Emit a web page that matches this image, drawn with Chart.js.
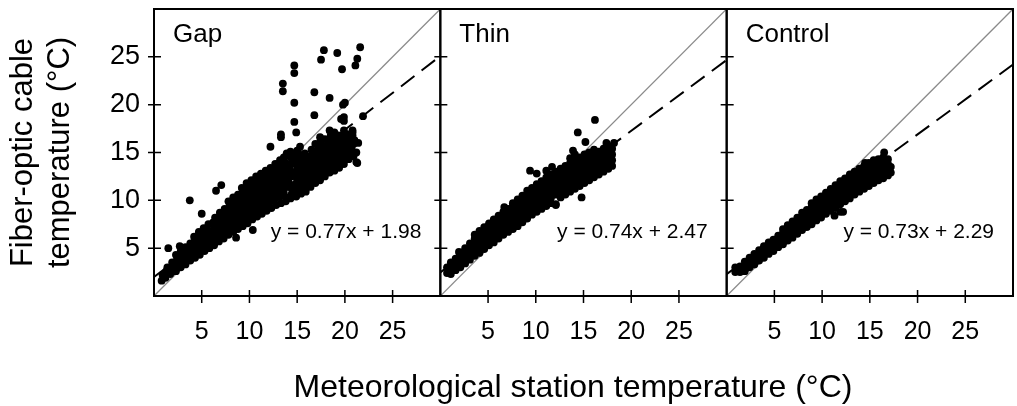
<!DOCTYPE html>
<html>
<head>
<meta charset="utf-8">
<script src="https://cdn.jsdelivr.net/npm/chart.js@4.4.0/dist/chart.umd.min.js"></script>
<style>
  html, body { margin: 0; padding: 0; background: #fff; }
  #wrap { width: 1017px; height: 406px; position: relative; }
</style>
</head>
<body>
<div id="wrap"><canvas id="myChart"></canvas></div>
<script>
// panel names and the regression fit printed in each panel
const panelNames = ['Gap', 'Thin', 'Control'];
const fitSlopes = [0.77, 0.74, 0.73];
const fitIntercepts = [1.98, 2.47, 2.29];
const tickValues = [5, 10, 15, 20, 25];
const axisMin = 0;
const axisMax = 30;

// [station temp, cable temp]
const gapPoints = [
  [0.8,1.6],[0.9,2.2],[1.2,1.9],[1.3,2.6],[1.4,3.0],[1.7,2.3],[1.8,2.9],[1.9,3.5],
  [2.3,2.6],[2.2,3.2],[2.4,3.8],[2.3,4.3],[2.8,3.0],[2.7,3.6],[2.9,4.2],[2.8,4.7],
  [3.3,3.3],[3.2,3.9],[3.4,4.5],[3.3,5.1],[3.8,3.7],[3.7,4.3],[3.9,4.9],[3.8,5.5],
  [4.3,4.0],[4.2,4.6],[4.4,5.2],[4.3,5.8],[4.2,6.2],
  [4.8,4.3],[4.7,4.9],[4.9,5.5],[4.8,6.1],[4.7,6.7],
  [5.3,4.7],[5.2,5.3],[5.4,5.9],[5.3,6.5],[5.2,7.1],
  [5.8,5.0],[5.7,5.6],[5.9,6.2],[5.8,6.8],[5.7,7.5],
  [6.3,5.3],[6.2,5.9],[6.4,6.5],[6.3,7.1],[6.2,7.7],[6.4,8.2],
  [6.8,5.7],[6.7,6.3],[6.9,6.9],[6.8,7.5],[6.7,8.1],[6.9,8.7],
  [7.3,6.0],[7.2,6.6],[7.4,7.2],[7.3,7.8],[7.2,8.4],[7.4,9.1],
  [7.8,6.4],[7.7,7.0],[7.9,7.6],[7.8,8.2],[7.7,8.8],[7.9,9.4],[7.8,9.9],
  [8.3,6.7],[8.2,7.3],[8.4,7.9],[8.3,8.5],[8.2,9.1],[8.4,9.7],[8.3,10.3],
  [8.8,7.0],[8.7,7.6],[8.9,8.2],[8.8,8.8],[8.7,9.4],[8.9,10.0],[8.8,10.6],
  [9.3,7.3],[9.2,7.9],[9.4,8.5],[9.3,9.1],[9.2,9.7],[9.4,10.3],[9.3,10.9],[9.2,11.3],
  [9.8,7.6],[9.7,8.2],[9.9,8.8],[9.8,9.4],[9.7,10.0],[9.9,10.6],[9.8,11.2],[9.7,11.8],
  [10.3,8.0],[10.2,8.6],[10.4,9.2],[10.3,9.8],[10.2,10.4],[10.4,11.0],[10.3,11.6],[10.2,12.1],
  [10.8,8.3],[10.7,8.9],[10.9,9.5],[10.8,10.1],[10.7,10.7],[10.9,11.3],[10.8,11.9],[10.7,12.5],
  [11.3,8.6],[11.2,9.2],[11.4,9.8],[11.3,10.4],[11.2,11.0],[11.4,11.6],[11.3,12.2],[11.2,12.8],
  [11.8,8.9],[11.7,9.5],[11.9,10.1],[11.8,10.7],[11.7,11.3],[11.9,11.9],[11.8,12.5],[11.7,13.1],
  [12.3,9.2],[12.2,9.9],[12.4,10.5],[12.3,11.1],[12.2,11.7],[12.4,12.3],[12.3,12.9],[12.2,13.4],
  [12.8,9.5],[12.7,10.2],[12.9,10.8],[12.8,11.4],[12.7,12.0],[12.9,12.6],[12.8,13.2],[12.7,13.8],
  [13.3,9.7],[13.2,10.4],[13.4,11.0],[13.3,11.7],[13.2,12.3],[13.4,13.0],[13.3,13.6],[13.2,14.2],
  [13.8,9.9],[13.6,10.8],[13.9,11.4],[13.7,12.5],[14.0,13.0],[13.8,13.9],[13.6,14.5],
  [14.3,10.2],[14.5,10.9],[14.1,11.9],[14.4,12.5],[14.2,13.4],[14.5,14.1],[14.3,15.1],
  [14.9,10.4],[14.7,11.3],[15.0,12.0],[14.8,13.0],[15.0,13.6],[14.6,14.6],
  [15.4,10.7],[15.2,11.6],[15.5,12.4],[15.3,13.3],[15.5,14.1],[15.1,15.0],
  [15.9,10.9],[15.7,12.0],[16.0,12.6],[15.8,13.6],[16.0,14.5],
  [16.4,11.4],[16.2,12.3],[16.5,13.1],[16.3,14.0],[16.5,15.3],
  [16.9,11.8],[16.7,12.6],[17.0,13.5],[16.8,14.5],[16.9,15.9],
  [17.4,12.1],[17.2,13.0],[17.5,13.7],[17.3,14.9],[17.5,15.6],
  [17.9,12.5],[17.7,13.4],[18.0,14.3],[17.8,15.0],[17.9,16.4],
  [18.4,12.9],[18.2,13.8],[18.5,14.6],[18.3,15.6],[18.5,16.7],
  [18.9,13.1],[18.7,14.1],[19.0,14.8],[18.8,16.0],[18.9,17.1],
  [19.4,13.4],[19.2,14.4],[19.5,15.3],[19.3,16.3],
  [19.9,13.8],[19.7,14.8],[20.0,15.5],[19.8,16.7],[19.9,17.3],
  [20.4,14.3],[20.2,15.0],[20.5,16.1],[20.3,16.9],
  [20.9,14.6],[20.7,15.4],[21.0,16.3],[20.8,17.3],
  [21.3,13.9],[21.2,15.0],[21.4,16.0],
  [13.9,10.3],[13.7,11.9],[13.9,13.5],[14.4,10.6],[14.2,11.4],[14.3,12.9],[14.4,13.8],[14.2,14.6],
  [14.9,10.8],[14.8,11.7],[14.9,12.5],[14.8,14.1],[15.0,15.2],
  [15.3,11.1],[15.4,12.0],[15.3,12.8],[15.4,13.7],[15.3,14.5],
  [15.8,11.5],[15.9,12.3],[15.8,13.1],[15.9,14.1],[15.8,14.9],
  [16.3,11.8],[16.4,12.7],[16.3,13.6],[16.2,14.6],
  [16.8,12.2],[16.8,13.0],[16.9,14.0],[16.8,15.1],
  [17.3,12.5],[17.3,13.4],[17.4,14.3],[17.2,15.3],[17.4,16.1],
  [17.8,12.9],[17.8,13.9],[17.9,14.7],[17.8,15.7],
  [18.3,13.3],[18.3,14.2],[18.4,15.1],[18.3,16.2],
  [18.8,13.6],[18.8,14.5],[18.9,15.4],[18.8,16.5],
  [19.3,13.9],[19.3,14.9],[19.4,15.8],[19.3,16.8],
  [19.8,14.3],[19.8,15.1],[19.9,16.1],
  [20.3,14.7],[20.3,15.6],[20.4,16.5],
  [20.8,15.0],[20.9,15.9],[20.8,16.8],
  [21.6,26.0],[21.3,24.8],[21.1,24.1],[17.8,25.7],[17.5,24.7],[19.2,25.4],[19.7,23.7],
  [14.7,24.1],[14.7,23.3],[13.5,22.2],[13.5,21.4],[16.8,21.3],[18.4,20.7],[14.7,20.2],
  [16.8,18.9],[14.7,18.2],[19.8,20.0],[19.9,18.7],[19.9,18.3],[21.9,18.8],[13.3,16.9],
  [13.3,16.6],[3.75,10.0],[6.5,11.0],[7.05,11.6],[5.0,8.6],[1.5,5.0],[2.7,5.2],
  [10.35,6.9],[8.6,6.1],[19.6,18.5],[20.0,20.2],[20.8,17.1],[14.9,17.1],[12.2,15.6],
  [13.9,14.9],[15.3,15.6],[17.4,16.6],[18.4,17.3],[18.9,16.3],[20.1,15.9],[21.2,14.0]
];

const thinPoints = [
  [0.7,2.4],[0.7,3.0],[1.1,2.3],[1.1,2.9],[1.1,3.5],[1.6,2.7],[1.6,3.3],[1.6,3.9],
  [2.1,3.0],[2.1,3.6],[2.1,4.2],[2.6,3.4],[2.6,4.0],[2.6,4.6],[2.6,5.0],
  [3.1,3.8],[3.1,4.4],[3.1,5.0],[3.1,5.5],[3.6,4.2],[3.6,4.8],[3.6,5.4],[3.6,6.0],[3.6,6.4],
  [4.1,4.5],[4.1,5.1],[4.1,5.7],[4.1,6.3],[4.1,6.8],[4.6,4.9],[4.6,5.5],[4.6,6.1],[4.6,6.7],[4.6,7.2],
  [5.1,5.3],[5.1,5.9],[5.1,6.5],[5.1,7.1],[5.1,7.6],[5.6,5.6],[5.6,6.2],[5.6,6.8],[5.6,7.4],[5.6,8.0],
  [6.1,6.0],[6.1,6.6],[6.1,7.2],[6.1,7.8],[6.1,8.4],[6.6,6.4],[6.6,7.0],[6.6,7.6],[6.6,8.2],[6.6,8.8],[6.7,9.3],
  [7.1,6.7],[7.1,7.3],[7.1,7.9],[7.1,8.5],[7.1,9.1],[7.6,7.0],[7.6,7.6],[7.6,8.2],[7.6,8.8],[7.6,9.4],[7.6,9.7],
  [8.1,7.3],[8.1,7.9],[8.1,8.5],[8.1,9.1],[8.1,9.7],[8.1,10.1],[8.6,7.7],[8.6,8.3],[8.6,8.9],[8.6,9.5],[8.6,10.1],[8.6,10.5],
  [9.1,8.1],[9.1,8.7],[9.1,9.3],[9.1,9.9],[9.1,10.5],[9.1,11.0],[9.6,8.5],[9.6,9.1],[9.6,9.7],[9.6,10.3],[9.6,10.9],[9.6,11.3],
  [10.1,8.8],[10.1,9.4],[10.1,10.0],[10.1,10.6],[10.1,11.2],[10.1,11.7],[10.6,9.1],[10.6,9.7],[10.6,10.3],[10.6,10.9],[10.6,11.5],[10.6,12.0],
  [11.1,9.4],[11.1,10.0],[11.1,10.6],[11.1,11.2],[11.1,11.8],[11.1,12.4],[11.6,9.7],[11.6,10.3],[11.6,10.9],[11.6,11.5],[11.6,12.1],[11.6,12.7],
  [12.1,9.6],[12.1,10.6],[12.1,11.2],[12.1,11.8],[12.1,12.4],[12.1,13.0],[12.6,10.3],[12.6,10.9],[12.6,11.5],[12.6,12.1],[12.6,12.7],[12.6,13.3],
  [13.1,10.6],[13.1,11.2],[13.1,11.8],[13.1,12.4],[13.1,13.0],[13.1,13.6],
  [13.6,10.9],[13.6,11.5],[13.6,12.1],[13.6,12.7],[13.6,13.3],[13.6,13.9],[13.6,14.4],
  [14.1,11.2],[14.1,11.8],[14.1,12.4],[14.1,13.0],[14.1,13.6],[14.1,14.2],[14.1,14.8],
  [14.6,11.5],[14.6,12.1],[14.6,12.7],[14.6,13.3],[14.6,13.9],[14.6,14.5],
  [15.1,11.8],[15.1,12.4],[15.1,13.0],[15.1,13.6],[15.1,14.2],[15.1,14.8],
  [15.6,12.1],[15.6,12.7],[15.6,13.3],[15.6,13.9],[15.6,14.5],[15.6,15.0],
  [16.1,12.4],[16.1,13.0],[16.1,13.6],[16.1,14.2],[16.1,14.8],[16.1,15.3],
  [16.6,12.7],[16.6,13.3],[16.6,13.9],[16.6,14.5],[16.6,15.1],
  [17.1,13.0],[17.1,13.6],[17.1,14.2],[17.1,14.8],[17.1,15.4],
  [17.6,13.3],[17.6,13.9],[17.6,14.5],[17.6,15.1],[17.6,15.7],
  [18.0,13.6],[18.0,14.2],[18.0,14.8],[18.0,15.4],
  [16.2,18.4],[14.4,17.1],[15.2,16.1],[13.9,15.2],[17.4,16.0],[18.2,16.0],[9.4,13.1],
  [10.1,12.8],[11.1,13.1],[11.7,13.5],[1.95,4.6],[12.1,9.5],[14.8,10.3]
];

const controlPoints = [
  [0.9,2.5],[0.9,3.0],[1.4,2.5],[1.4,3.1],[1.9,2.6],[1.9,3.2],[1.9,3.6],
  [2.4,3.0],[2.4,3.6],[2.4,4.0],[2.9,3.3],[2.9,3.9],[2.9,4.4],[3.4,3.7],[3.4,4.3],[3.4,4.8],
  [3.9,4.0],[3.9,4.6],[3.9,5.2],[4.4,4.4],[4.4,5.0],[4.4,5.6],[4.9,4.7],[4.9,5.3],[4.9,5.9],
  [5.4,5.1],[5.4,5.7],[5.4,6.3],[5.9,5.4],[5.9,6.0],[5.9,6.6],[5.9,7.0],
  [6.4,5.8],[6.4,6.4],[6.4,7.0],[6.4,7.4],[6.9,6.1],[6.9,6.7],[6.9,7.3],[6.9,7.8],
  [7.4,6.5],[7.4,7.1],[7.4,7.7],[7.4,8.2],[7.9,6.9],[7.9,7.5],[7.9,8.1],[7.9,8.7],
  [8.4,7.2],[8.4,7.8],[8.4,8.4],[8.4,9.0],[8.9,7.5],[8.9,8.1],[8.9,8.7],[8.9,9.3],[8.9,9.7],
  [9.4,7.9],[9.4,8.5],[9.4,9.1],[9.4,9.7],[9.4,10.1],[9.9,8.2],[9.9,8.8],[9.9,9.4],[9.9,10.0],[9.9,10.4],
  [10.4,8.6],[10.4,9.2],[10.4,9.8],[10.4,10.4],[10.4,10.8],[10.9,8.9],[10.9,9.5],[10.9,10.1],[10.9,10.7],[10.9,11.2],
  [11.4,9.2],[11.4,9.8],[11.4,10.4],[11.4,11.0],[11.4,11.6],[11.9,9.6],[11.9,10.2],[11.9,10.8],[11.9,11.4],[11.9,12.0],
  [12.4,9.9],[12.4,10.5],[12.4,11.1],[12.4,11.7],[12.4,12.3],[12.9,10.2],[12.9,10.8],[12.9,11.4],[12.9,12.0],[12.9,12.7],
  [13.4,10.6],[13.4,11.2],[13.4,11.8],[13.4,12.4],[13.4,13.0],[13.9,10.9],[13.9,11.5],[13.9,12.1],[13.9,12.7],[13.9,13.3],
  [14.4,11.2],[14.4,11.8],[14.4,12.4],[14.4,13.0],[14.4,13.6],[14.9,11.5],[14.9,12.1],[14.9,12.7],[14.9,13.3],[14.9,13.9],
  [15.4,11.8],[15.4,12.4],[15.4,13.0],[15.4,13.6],[15.4,14.2],[15.9,12.1],[15.9,12.7],[15.9,13.3],[15.9,13.9],[15.9,14.3],
  [16.4,12.3],[16.4,12.9],[16.4,13.5],[16.4,14.1],[16.4,14.5],[16.9,12.6],[16.9,13.2],[16.9,13.8],[16.9,14.3],
  [17.2,12.9],[17.2,13.5],
  [16.5,15.0],[14.5,13.9],[11.9,8.8],[10.9,9.3],[12.2,8.8],[11.3,8.4]
];

const panelPoints = [gapPoints, thinPoints, controlPoints];

Chart.defaults.font.family = '"Liberation Sans", Arial, Helvetica, sans-serif';
Chart.defaults.color = '#000';

const ctx = document.getElementById('myChart');

let datasets = [];
panelNames.forEach((name, i) => {
  datasets.push({
    type: 'scatter',
    label: name,
    data: panelPoints[i].map(p => ({x: p[0], y: p[1]})),
    xAxisID: 'x' + i,
    yAxisID: 'y',
    backgroundColor: '#000',
    borderWidth: 0,
    pointRadius: 3.9,
    order: 1
  });
  // 1:1 line
  datasets.push({
    type: 'line',
    data: [{x: axisMin, y: axisMin}, {x: axisMax, y: axisMax}],
    xAxisID: 'x' + i,
    yAxisID: 'y',
    borderColor: '#8a8a8a',
    borderWidth: 1.3,
    pointRadius: 0,
    order: 3
  });
  // fitted line
  datasets.push({
    type: 'line',
    data: [axisMin, axisMax].map(v => ({x: v, y: fitSlopes[i] * v + fitIntercepts[i]})),
    xAxisID: 'x' + i,
    yAxisID: 'y',
    borderColor: '#000',
    borderWidth: 2,
    borderDash: [17, 9],
    pointRadius: 0,
    order: 2
  });
});

let scales = {
  y: {
    type: 'linear',
    position: 'left',
    min: axisMin,
    max: axisMax,
    afterBuildTicks: axis => { axis.ticks = tickValues.map(v => ({value: v})); },
    ticks: { font: {size: 27}, padding: 14 },
    grid: { display: false, drawTicks: false },
    border: { display: false },
    title: {
      display: true,
      text: ['Fiber-optic cable', 'temperature (°C)'],
      font: {size: 31, lineHeight: 1.2},
      padding: {top: 5, bottom: 0}
    },
    afterFit: s => {
      s.width = 154;
      s.paddingTop = 0;
      s.paddingBottom = 0;
    }
  }
};
panelNames.forEach((name, i) => {
  scales['x' + i] = {
    type: 'linear',
    position: 'bottom',
    stack: 'panels',
    stackWeight: 1,
    min: axisMin,
    max: axisMax,
    afterBuildTicks: axis => { axis.ticks = tickValues.map(v => ({value: v})); },
    ticks: { font: {size: 25}, padding: 21, maxRotation: 0, autoSkip: false },
    grid: { display: false, drawTicks: false },
    border: { display: false },
    afterFit: s => {
      s.height = 110;
      s.paddingLeft = 0;
      s.paddingRight = 0;
    }
  };
});

// frames, ticks across the frame, panel labels, equations, shared x title
const panelDecor = {
  id: 'panelDecor',
  afterDraw(chart) {
    const c = chart.ctx;
    const area = chart.chartArea;
    const y = chart.scales.y;
    const fam = '"Liberation Sans", Arial, Helvetica, sans-serif';
    c.save();
    panelNames.forEach((name, i) => {
      const x = chart.scales['x' + i];
      c.strokeStyle = '#000';
      c.lineWidth = 2;
      c.strokeRect(x.left, area.top, x.right - x.left, area.bottom - area.top);
      c.lineWidth = 1.5;
      c.beginPath();
      tickValues.forEach(v => {
        const px = x.getPixelForValue(v);
        c.moveTo(px, area.bottom - 6);
        c.lineTo(px, area.bottom + 7);
        const py = y.getPixelForValue(v);
        c.moveTo(x.left - 6, py);
        c.lineTo(x.left + 7, py);
      });
      c.stroke();
      c.fillStyle = '#000';
      c.textBaseline = 'alphabetic';
      c.textAlign = 'left';
      c.font = '26px ' + fam;
      c.fillText(name, x.left + 19, area.top + 33);
      c.textAlign = 'right';
      c.font = '21px ' + fam;
      c.fillText('y = ' + fitSlopes[i].toFixed(2) + 'x + ' + fitIntercepts[i].toFixed(2), x.right - 19, area.bottom - 58);
    });
    c.textAlign = 'center';
    c.font = '32px ' + fam;
    c.fillText('Meteorological station temperature (°C)', 573, 397);
    c.restore();
  }
};

new Chart(ctx, {
  type: 'scatter',
  data: { datasets: datasets },
  options: {
    responsive: true,
    maintainAspectRatio: false,
    animation: false,
    events: [],
    layout: { padding: {top: 9, right: 1, left: 0, bottom: 0} },
    plugins: {
      legend: { display: false },
      tooltip: { enabled: false }
    },
    scales: scales
  },
  plugins: [panelDecor]
});
</script>
</body>
</html>
